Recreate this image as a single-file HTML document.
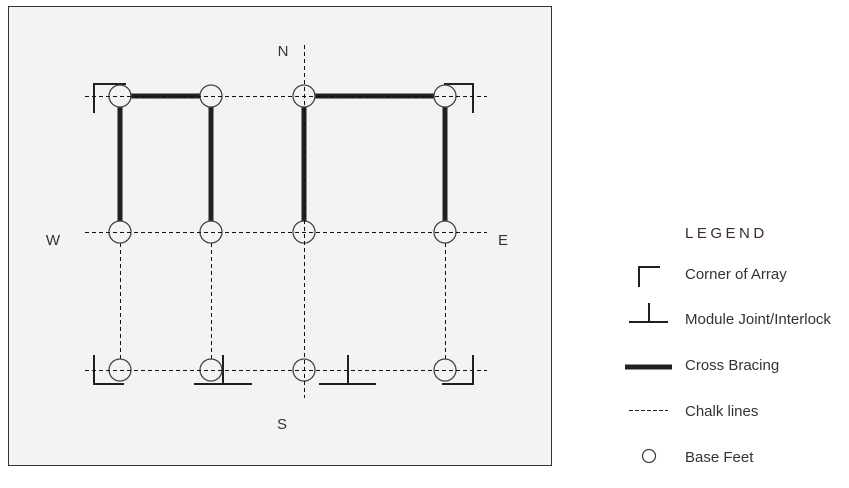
<!DOCTYPE html>
<html><head><style>body{margin:0;background:#fff}</style></head><body>
<svg width="849" height="483" xmlns="http://www.w3.org/2000/svg" font-family="Liberation Sans, sans-serif">
<rect x="8.5" y="6.5" width="543" height="459" fill="#f3f3f5" stroke="#333" stroke-width="1"/>
<g stroke="#111" stroke-width="1" stroke-dasharray="4,3" fill="none" shape-rendering="crispEdges">
<line x1="85" y1="96.5" x2="487" y2="96.5"/>
<line x1="85" y1="232.5" x2="487" y2="232.5"/>
<line x1="85" y1="370.5" x2="487" y2="370.5"/>
<line x1="304.5" y1="45" x2="304.5" y2="398"/>
<line x1="120.5" y1="96" x2="120.5" y2="370"/>
<line x1="211.5" y1="96" x2="211.5" y2="370"/>
<line x1="445.5" y1="96" x2="445.5" y2="370"/>
</g>
<g stroke="#231f20" stroke-width="5" fill="none">
<line x1="120" y1="96" x2="211" y2="96"/>
<line x1="304" y1="96" x2="445" y2="96"/>
<line x1="120" y1="96" x2="120" y2="222"/>
<line x1="211" y1="96" x2="211" y2="222"/>
<line x1="304" y1="96" x2="304" y2="222"/>
<line x1="445" y1="96" x2="445" y2="222"/>
</g>
<g stroke="#231f20" stroke-width="2" fill="none">
<polyline points="94,113 94,84 126,84"/>
<polyline points="444,84 473,84 473,113"/>
<polyline points="94,355 94,384 124,384"/>
<polyline points="442,384 473,384 473,355"/>
<line x1="223" y1="355" x2="223" y2="384"/><line x1="194" y1="384" x2="252" y2="384"/>
<line x1="348" y1="355" x2="348" y2="384"/><line x1="319" y1="384" x2="376" y2="384"/>
</g>
<g stroke="#444" stroke-width="1.3" fill="#f3f3f5">
<circle cx="120" cy="96" r="11"/><circle cx="211" cy="96" r="11"/><circle cx="445" cy="96" r="11"/>
<circle cx="120" cy="232" r="11"/><circle cx="211" cy="232" r="11"/><circle cx="304" cy="232" r="11"/><circle cx="445" cy="232" r="11"/>
<circle cx="120" cy="370" r="11"/><circle cx="211" cy="370" r="11"/><circle cx="304" cy="370" r="11"/><circle cx="445" cy="370" r="11"/>
<circle cx="304" cy="96" r="11"/>
</g>
<g stroke="#111" stroke-width="1" stroke-dasharray="4,3" fill="none" shape-rendering="crispEdges">
<line x1="85" y1="96.5" x2="487" y2="96.5"/>
<line x1="85" y1="232.5" x2="487" y2="232.5"/>
<line x1="85" y1="370.5" x2="487" y2="370.5"/>
<line x1="304.5" y1="45" x2="304.5" y2="398"/>
</g>
<line x1="211" y1="354" x2="211" y2="384" stroke="none"/>
<line x1="223" y1="355" x2="223" y2="384" stroke="#231f20" stroke-width="2"/>
<line x1="473" y1="355" x2="473" y2="384" stroke="#231f20" stroke-width="2"/>
<g fill="#333" font-size="15">
<text x="283" y="56" text-anchor="middle">N</text>
<text x="282" y="429" text-anchor="middle">S</text>
<text x="53" y="245" text-anchor="middle">W</text>
<text x="503" y="245" text-anchor="middle">E</text>
<text x="685" y="238" letter-spacing="3.5" fill="#3a2a3a">LEGEND</text>
<text x="685" y="279">Corner of Array</text>
<text x="685" y="324">Module Joint/Interlock</text>
<text x="685" y="370">Cross Bracing</text>
<text x="685" y="416">Chalk lines</text>
<text x="685" y="462">Base Feet</text>
</g>
<g stroke="#231f20" fill="none">
<polyline points="639,287 639,267 660,267" stroke-width="2"/>
<line x1="649" y1="303" x2="649" y2="322" stroke-width="2"/>
<line x1="629" y1="322" x2="668" y2="322" stroke-width="2"/>
<line x1="625" y1="367" x2="672" y2="367" stroke-width="5"/>
<line x1="629" y1="410.5" x2="668" y2="410.5" stroke-width="1" stroke-dasharray="4,2" shape-rendering="crispEdges"/>
<circle cx="649" cy="456" r="6.5" stroke-width="1.3" stroke="#444"/>
</g>
</svg>
</body></html>
